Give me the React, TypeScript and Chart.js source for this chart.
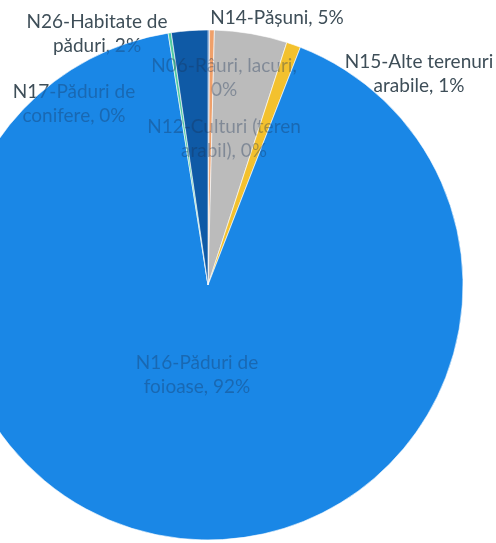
import React, { useEffect, useRef } from "react";
import { Chart, registerables } from "chart.js";

Chart.register(...registerables);

const categories = [
  "N06-Râuri, lacuri",
  "N12-Culturi (teren arabil)",
  "N14-Pășuni",
  "N15-Alte terenuri arabile",
  "N16-Păduri de foioase",
  "N17-Păduri de conifere",
  "N26-Habitate de păduri",
];
const values = [0.1, 0.3, 4.6, 0.9, 91.6, 0.2, 2.3];
const percentLabels = ["0%", "0%", "5%", "1%", "92%", "0%", "2%"];
const sliceColors = ["#2F6FC0", "#EFA06A", "#BBBBBB", "#F3C12E", "#1A87E6", "#4FCBA2", "#0F5AA6"];

// label placement (offset from pie centre, px)
const labelOffsets: [number, number][] = [
  [16, -207],
  [16, -146],
  [69, -267],
  [211, -211],
  [-11, 90],
  [-134, -181],
  [-111, -251],
];

const FONT = "19px Lato";
const LINE_H = 24;
const WRAP_W = 170;

function wrap(ctx: CanvasRenderingContext2D, text: string, maxW: number): string[] {
  const words = text.split(" ");
  const lines: string[] = [];
  let cur = "";
  for (const w of words) {
    const t = cur ? cur + " " + w : w;
    if (cur && ctx.measureText(t).width > maxW) {
      lines.push(cur);
      cur = w;
    } else cur = t;
  }
  if (cur) lines.push(cur);
  return lines;
}

const labelPlugin = {
  id: "pieLabels",
  afterDatasetsDraw(chart: any) {
    const ctx: CanvasRenderingContext2D = chart.ctx;
    const arc = chart.getDatasetMeta(0).data[0];
    if (!arc) return;
    const cx = arc.x;
    const cy = arc.y;
    const r = arc.outerRadius;
    ctx.save();
    ctx.font = FONT;
    ctx.textAlign = "center";
    ctx.textBaseline = "middle";
    const drawAll = (color: string) => {
      ctx.fillStyle = color;
      categories.forEach((c, i) => {
        const lines = wrap(ctx, `${c}, ${percentLabels[i]}`, WRAP_W);
        const [dx, dy] = labelOffsets[i];
        const x = cx + dx;
        const y0 = cy + dy - ((lines.length - 1) * LINE_H) / 2;
        lines.forEach((l, k) => ctx.fillText(l, x, y0 + k * LINE_H));
      });
    };
    // outside pie
    ctx.save();
    ctx.beginPath();
    ctx.rect(0, 0, chart.width, chart.height);
    ctx.arc(cx, cy, r, 0, Math.PI * 2);
    ctx.clip("evenodd");
    drawAll("#3E4E58");
    ctx.restore();
    // inside pie
    ctx.save();
    ctx.beginPath();
    ctx.arc(cx, cy, r, 0, Math.PI * 2);
    ctx.clip();
    drawAll("rgba(25,50,85,0.36)");
    ctx.restore();
    ctx.restore();
  },
};

export default function App() {
  const ref = useRef<HTMLCanvasElement>(null);
  useEffect(() => {
    if (!ref.current) return;
    const chart = new Chart(ref.current, {
      type: "pie",
      data: {
        labels: categories,
        datasets: [
          {
            data: values,
            backgroundColor: sliceColors,
            borderColor: "rgba(255,255,255,0.6)",
            borderWidth: 1,
          },
        ],
      },
      options: {
        responsive: false,
        animation: false,
        radius: 255,
        layout: { padding: 0 },
        plugins: {
          legend: { display: false },
          tooltip: { enabled: false },
        },
      },
      plugins: [labelPlugin],
    });
    return () => chart.destroy();
  }, []);
  return (
    <div
      style={{
        position: "fixed",
        left: 0,
        top: 0,
        width: 496,
        height: 543,
        overflow: "hidden",
        background: "#fff",
      }}
    >
      <canvas
        ref={ref}
        width={600}
        height={600}
        style={{ position: "absolute", left: -92, top: -15, width: 600, height: 600 }}
      />
    </div>
  );
}
